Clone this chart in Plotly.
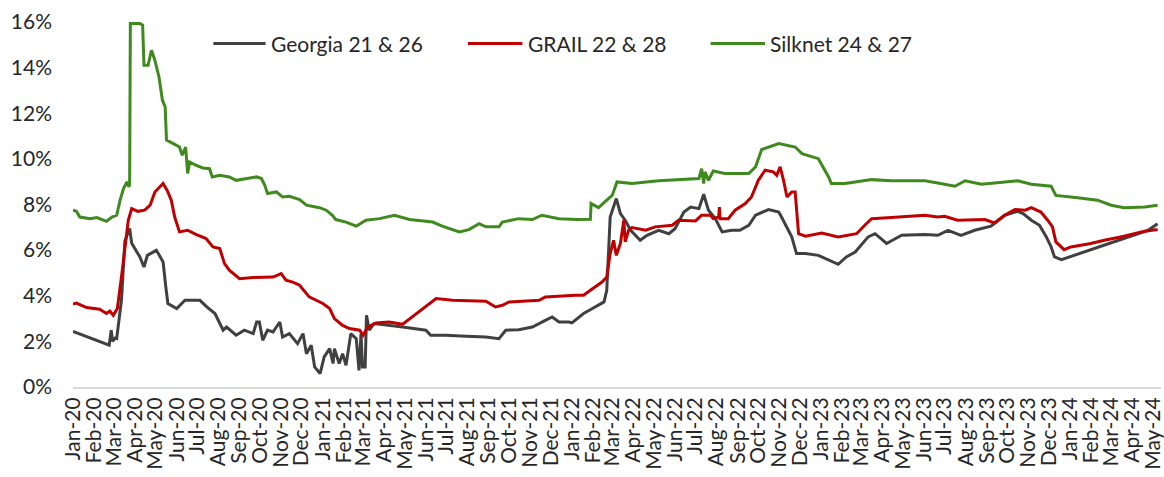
import plotly.graph_objects as go
import pandas as pd

# ---------------- data (yields, %) ----------------
georgia_dates = [
    "2020-01-01", "2020-02-23", "2020-02-26", "2020-02-28", "2020-03-03", "2020-03-05", "2020-03-12", "2020-03-17", "2020-03-24", "2020-03-27",
    "2020-04-08", "2020-04-14", "2020-04-19", "2020-05-02", "2020-05-05", "2020-05-12", "2020-05-16", "2020-05-19", "2020-06-01", "2020-06-13",
    "2020-07-05", "2020-07-15", "2020-07-27", "2020-08-08", "2020-08-13", "2020-08-27", "2020-09-08", "2020-09-21", "2020-09-26", "2020-09-30",
    "2020-10-05", "2020-10-12", "2020-10-20", "2020-10-30", "2020-11-03", "2020-11-13", "2020-11-25", "2020-12-03", "2020-12-08", "2020-12-15",
    "2020-12-20", "2020-12-28", "2021-01-03", "2021-01-11", "2021-01-16", "2021-01-18", "2021-01-25", "2021-01-30", "2021-02-04", "2021-02-09",
    "2021-02-11", "2021-02-19", "2021-02-23", "2021-02-26", "2021-02-28", "2021-03-04", "2021-03-06", "2021-03-10", "2021-03-17", "2021-04-28",
    "2021-06-01", "2021-06-08", "2021-06-30", "2021-07-30", "2021-08-28", "2021-09-16", "2021-09-26", "2021-10-15", "2021-11-04", "2021-11-23",
    "2021-12-03", "2021-12-13", "2021-12-28", "2022-01-01", "2022-01-18", "2022-01-31", "2022-02-17", "2022-02-21", "2022-02-26", "2022-03-07",
    "2022-03-13", "2022-03-20", "2022-03-28", "2022-04-11", "2022-04-21", "2022-05-08", "2022-05-23", "2022-06-01", "2022-06-14", "2022-06-24",
    "2022-07-06", "2022-07-13", "2022-07-20", "2022-07-30", "2022-08-09", "2022-08-23", "2022-09-04", "2022-09-17", "2022-09-27", "2022-10-16",
    "2022-10-31", "2022-11-04", "2022-11-14", "2022-11-19", "2022-11-26", "2022-12-09", "2022-12-28", "2023-01-14", "2023-01-26", "2023-02-07",
    "2023-02-20", "2023-03-11", "2023-03-21", "2023-04-07", "2023-04-29", "2023-06-02", "2023-06-21", "2023-07-06", "2023-07-25", "2023-08-14",
    "2023-09-07", "2023-09-27", "2023-10-16", "2023-10-24", "2023-11-05", "2023-11-17", "2023-11-27", "2023-12-04", "2023-12-09", "2023-12-19",
    "2024-01-07", "2024-02-10", "2024-03-10", "2024-04-04", "2024-04-24", "2024-05-08",
]
georgia_values = [
    2.44, 1.83, 2.49, 2.00, 2.15, 2.13, 3.80, 6.40, 6.95, 6.30,
    5.70, 5.26, 5.77, 5.99, 5.85, 5.48, 4.38, 3.66, 3.44, 3.80,
    3.80, 3.51, 3.22, 2.49, 2.63, 2.27, 2.49, 2.34, 2.85, 2.85,
    2.05, 2.49, 2.41, 2.85, 2.19, 2.34, 1.90, 2.34, 1.46, 1.83,
    0.88, 0.59, 1.32, 1.68, 1.03, 1.68, 1.03, 1.46, 0.95, 2.05,
    2.34, 2.12, 0.73, 2.34, 0.88, 0.88, 3.14, 2.49, 2.78, 2.63,
    2.49, 2.27, 2.27, 2.22, 2.19, 2.12, 2.49, 2.51, 2.63, 2.92,
    3.07, 2.85, 2.85, 2.81, 3.22, 3.44, 3.73, 4.24, 7.45, 8.26,
    7.60, 7.31, 6.87, 6.43, 6.65, 6.87, 6.72, 6.94, 7.67, 7.89,
    7.82, 8.45, 7.75, 7.38, 6.80, 6.87, 6.87, 7.09, 7.53, 7.78,
    7.67, 7.45, 6.87, 6.58, 5.85, 5.85, 5.77, 5.55, 5.38, 5.70,
    5.92, 6.58, 6.72, 6.29, 6.65, 6.68, 6.65, 6.87, 6.65, 6.87,
    7.05, 7.53, 7.70, 7.60, 7.31, 7.09, 6.58, 6.14, 5.70, 5.58,
    5.77, 6.14, 6.43, 6.65, 6.87, 7.16,
]

grail_dates = [
    "2020-01-01", "2020-01-06", "2020-01-21", "2020-02-09", "2020-02-19", "2020-02-24", "2020-02-29", "2020-03-06", "2020-03-12", "2020-03-18",
    "2020-03-22", "2020-03-27", "2020-04-05", "2020-04-15", "2020-04-23", "2020-04-30", "2020-05-07", "2020-05-12", "2020-05-18", "2020-05-24",
    "2020-05-29", "2020-06-05", "2020-06-17", "2020-06-29", "2020-07-14", "2020-07-24", "2020-08-03", "2020-08-10", "2020-08-17", "2020-09-01",
    "2020-09-21", "2020-10-20", "2020-11-01", "2020-11-08", "2020-11-18", "2020-11-28", "2020-12-12", "2021-01-01", "2021-01-11", "2021-01-18",
    "2021-01-30", "2021-02-09", "2021-02-24", "2021-03-01", "2021-03-08", "2021-03-20", "2021-04-08", "2021-04-28", "2021-06-16", "2021-07-10",
    "2021-08-28", "2021-09-11", "2021-09-21", "2021-10-01", "2021-11-14", "2021-11-23", "2022-01-06", "2022-01-18", "2022-01-28", "2022-02-14",
    "2022-02-21", "2022-02-26", "2022-03-03", "2022-03-07", "2022-03-13", "2022-03-18", "2022-03-20", "2022-03-25", "2022-03-30", "2022-04-19",
    "2022-05-03", "2022-05-28", "2022-06-06", "2022-07-01", "2022-07-10", "2022-07-23", "2022-07-27", "2022-08-04", "2022-08-05", "2022-08-06",
    "2022-08-18", "2022-08-28", "2022-09-12", "2022-09-21", "2022-10-01", "2022-10-11", "2022-10-23", "2022-10-28", "2022-11-02", "2022-11-07",
    "2022-11-12", "2022-11-19", "2022-11-24", "2022-11-29", "2022-12-09", "2023-01-02", "2023-01-26", "2023-02-10", "2023-02-22", "2023-03-06",
    "2023-03-16", "2023-04-14", "2023-06-02", "2023-06-21", "2023-07-01", "2023-07-20", "2023-08-29", "2023-09-12", "2023-09-27", "2023-10-12",
    "2023-10-27", "2023-11-05", "2023-11-19", "2023-11-29", "2023-12-06", "2023-12-11", "2023-12-23", "2024-01-02", "2024-01-31", "2024-02-20",
    "2024-03-20", "2024-04-14", "2024-05-08",
]
grail_values = [
    3.63, 3.68, 3.48, 3.41, 3.22, 3.33, 3.14, 3.44, 4.82, 6.29,
    7.31, 7.82, 7.70, 7.75, 7.97, 8.55, 8.77, 8.92, 8.62, 8.19,
    7.45, 6.80, 6.87, 6.69, 6.51, 6.14, 6.07, 5.41, 5.12, 4.75,
    4.80, 4.82, 4.97, 4.68, 4.60, 4.46, 3.95, 3.66, 3.44, 3.00,
    2.70, 2.56, 2.49, 2.27, 2.63, 2.81, 2.85, 2.75, 3.88, 3.80,
    3.76, 3.51, 3.58, 3.73, 3.80, 3.95, 4.02, 4.02, 4.24, 4.60,
    4.82, 5.85, 6.43, 5.77, 6.29, 7.31, 6.36, 6.87, 6.99, 6.87,
    7.02, 7.09, 7.31, 7.28, 7.53, 7.53, 7.38, 7.45, 7.89, 7.38,
    7.38, 7.75, 8.04, 8.33, 9.06, 9.50, 9.43, 9.28, 9.65, 9.06,
    8.33, 8.55, 8.55, 6.72, 6.61, 6.75, 6.58, 6.65, 6.72, 7.09,
    7.38, 7.43, 7.53, 7.45, 7.48, 7.31, 7.34, 7.19, 7.53, 7.78,
    7.75, 7.86, 7.67, 7.31, 7.02, 6.36, 6.02, 6.14, 6.29, 6.43,
    6.61, 6.80, 6.90,
]

silknet_dates = [
    "2020-01-01", "2020-01-06", "2020-01-11", "2020-01-26", "2020-02-05", "2020-02-19", "2020-02-27", "2020-03-05", "2020-03-10", "2020-03-15",
    "2020-03-20", "2020-03-23", "2020-03-24", "2020-03-25", "2020-04-08", "2020-04-12", "2020-04-14", "2020-04-20", "2020-04-25", "2020-04-30",
    "2020-05-06", "2020-05-11", "2020-05-15", "2020-05-17", "2020-05-27", "2020-06-05", "2020-06-09", "2020-06-14", "2020-06-17", "2020-06-20",
    "2020-06-29", "2020-07-09", "2020-07-19", "2020-07-23", "2020-08-03", "2020-08-17", "2020-08-27", "2020-09-11", "2020-09-26", "2020-10-03",
    "2020-10-08", "2020-10-12", "2020-10-25", "2020-11-03", "2020-11-13", "2020-11-28", "2020-12-08", "2020-12-27", "2021-01-06", "2021-01-15",
    "2021-01-20", "2021-02-04", "2021-02-19", "2021-03-05", "2021-03-25", "2021-04-16", "2021-05-08", "2021-06-11", "2021-06-25", "2021-07-20",
    "2021-08-03", "2021-08-18", "2021-08-28", "2021-09-16", "2021-09-21", "2021-10-15", "2021-11-04", "2021-11-18", "2021-12-13", "2022-01-09",
    "2022-01-28", "2022-01-29", "2022-02-09", "2022-02-21", "2022-03-01", "2022-03-08", "2022-03-30", "2022-05-08", "2022-06-26", "2022-07-06",
    "2022-07-10", "2022-07-13", "2022-07-15", "2022-07-20", "2022-07-27", "2022-08-13", "2022-09-17", "2022-09-27", "2022-10-06", "2022-10-16",
    "2022-10-31", "2022-11-24", "2022-12-04", "2022-12-28", "2023-01-12", "2023-01-16", "2023-02-05", "2023-02-20", "2023-03-16", "2023-04-14",
    "2023-06-02", "2023-06-21", "2023-07-16", "2023-07-31", "2023-08-24", "2023-10-16", "2023-11-05", "2023-12-04", "2023-12-11", "2024-01-12",
    "2024-02-10", "2024-03-01", "2024-03-20", "2024-04-19", "2024-05-08",
]
silknet_values = [
    7.75, 7.70, 7.45, 7.38, 7.43, 7.26, 7.45, 7.53, 8.19, 8.70,
    8.99, 8.77, 8.92, 15.93, 15.93, 15.86, 14.10, 14.10, 14.76, 14.32,
    13.59, 12.57, 12.28, 10.82, 10.67, 10.52, 10.16, 10.52, 9.36, 9.86,
    9.72, 9.60, 9.57, 9.21, 9.28, 9.21, 9.06, 9.14, 9.21, 9.14,
    8.84, 8.48, 8.55, 8.33, 8.36, 8.22, 7.97, 7.86, 7.75, 7.53,
    7.34, 7.23, 7.05, 7.31, 7.38, 7.53, 7.34, 7.23, 7.05, 6.80,
    6.90, 7.16, 7.02, 7.02, 7.23, 7.38, 7.34, 7.53, 7.38, 7.34,
    7.35, 8.04, 7.86, 8.19, 8.40, 8.99, 8.92, 9.04, 9.14, 9.14,
    9.57, 8.92, 9.43, 9.06, 9.47, 9.36, 9.36, 9.65, 10.41, 10.52,
    10.67, 10.52, 10.23, 10.01, 9.21, 8.92, 8.92, 8.99, 9.09, 9.04,
    9.04, 8.94, 8.80, 9.04, 8.89, 9.04, 8.89, 8.80, 8.40, 8.30,
    8.19, 7.97, 7.86, 7.89, 7.97,
]

series_names = ["Georgia 21 & 26", "GRAIL 22 & 28", "Silknet 24 & 27"]
series_colors = ["#404040", "#C00000", "#3F8A1E"]

month_ticks = pd.date_range("2020-01-01", "2024-05-01", freq="MS")
month_labels = [d.strftime("%b-%y") for d in month_ticks]
y_ticks = [0, 2, 4, 6, 8, 10, 12, 14, 16]
y_labels = [f"{v}%" for v in y_ticks]

FONT = "Lato"
TXT = "#262626"
FS = 21

fig = go.Figure()
series = [
    (georgia_dates, georgia_values),
    (grail_dates, grail_values),
    (silknet_dates, silknet_values),
]
for (d, v), name, col in zip(series, series_names, series_colors):
    fig.add_trace(go.Scatter(
        x=pd.to_datetime(d), y=v, mode="lines", name=name,
        line=dict(color=col, width=3), showlegend=False,
    ))

# manual legend (longer line samples like the original)
legend_y = 0.941
legend_pos = [(0.129, 0.177), (0.363, 0.413), (0.586, 0.636)]
for (x0, x1), name, col in zip(legend_pos, series_names, series_colors):
    fig.add_shape(type="line", xref="paper", yref="paper", x0=x0, x1=x1,
                  y0=legend_y, y1=legend_y, line=dict(color=col, width=3))
    fig.add_annotation(xref="paper", yref="paper", x=x1 + 0.003, y=legend_y,
                       text=name, showarrow=False, xanchor="left", yanchor="middle",
                       font=dict(family=FONT, size=FS, color=TXT))

fig.update_layout(
    width=1164, height=477,
    margin=dict(l=73, r=3, t=22, b=90, autoexpand=False),
    paper_bgcolor="white", plot_bgcolor="white",
    font=dict(family=FONT, size=FS, color=TXT),
    showlegend=False,
)
fig.update_xaxes(
    type="date", range=["2020-01-01", "2024-05-13"],
    tickmode="array", tickvals=month_ticks, ticktext=month_labels,
    tickangle=-90, showgrid=False, zeroline=False,
    showline=True, linecolor="#D9D9D9", linewidth=2, ticks="",
    automargin=False, ticklabeloverflow="allow",
    tickfont=dict(family=FONT, size=FS, color=TXT),
)
fig.update_yaxes(
    range=[0, 16], tickmode="array", tickvals=y_ticks, ticktext=y_labels,
    showgrid=False, zeroline=False, showline=False, ticks="",
    ticklabelstandoff=20, automargin=False, ticklabeloverflow="allow",
    tickfont=dict(family=FONT, size=FS, color=TXT),
)

fig.write_html(
    "out.html",
    config={"displayModeBar": False},
    post_script="document.body.style.margin='0';document.body.style.overflow='hidden';",
)
